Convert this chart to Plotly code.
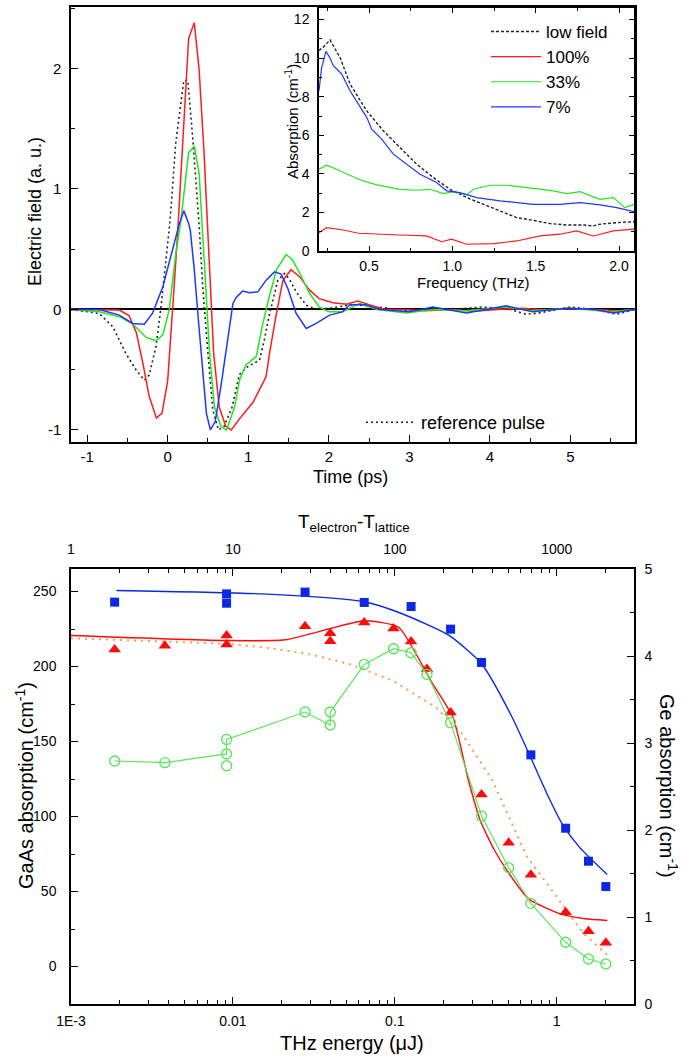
import plotly.graph_objects as go

# ---------------- Top panel: THz transients (time domain) ----------------
t_ref = [-1.2, -0.85, -0.68, -0.52, -0.39, -0.29, -0.23, -0.145, -0.083, -0.02, 0.03, 0.1, 0.2, 0.25, 0.31,
         0.39, 0.435, 0.5, 0.56, 0.63, 0.7, 0.8, 0.89, 0.99, 1.14, 1.2, 1.263, 1.367, 1.45, 1.512, 1.594,
         1.719, 1.843, 2.0, 2.3, 2.6, 3.0, 3.5, 3.9, 4.2, 4.45, 4.6, 5.0, 5.3, 5.57, 5.8]
E_ref = [0.0, -0.033, -0.144, -0.365, -0.504, -0.587, -0.545, -0.31, 0.022, 0.41, 0.74, 1.38, 1.90, 1.90, 1.43,
         0.70, 0.188, -0.365, -0.835, -1.0, -0.97, -0.81, -0.54, -0.476, -0.42, -0.25, -0.04, 0.243, 0.299, 0.25, 0.146,
         0.036, 0.0, 0.01, 0.04, 0.02, -0.01, 0.0, 0.02, 0.01, -0.04, -0.03, 0.02, 0.0, -0.04, 0.0]

t_100 = [-1.2, -0.85, -0.6, -0.48, -0.39, -0.31, -0.23, -0.14, -0.07, 0.0, 0.04, 0.08, 0.125, 0.26, 0.33,
         0.39, 0.45, 0.50, 0.53, 0.57, 0.64, 0.72, 0.79, 0.9, 1.06, 1.22, 1.27, 1.35, 1.43, 1.53, 1.64,
         1.76, 1.88, 2.05, 2.22, 2.36, 2.5, 2.7, 2.9, 3.2, 3.5, 3.8, 4.1, 4.4, 4.7, 5.0, 5.3, 5.6, 5.8]
E_100 = [0.0, 0.0, -0.005, -0.05, -0.19, -0.44, -0.72, -0.90, -0.86, -0.59, -0.23, 0.19, 0.65, 2.25, 2.38,
         1.99, 1.32, 0.66, 0.19, -0.36, -0.81, -0.97, -1.0, -0.9, -0.77, -0.56, -0.34, -0.03, 0.24, 0.33, 0.27,
         0.16, 0.09, 0.055, 0.044, 0.07, 0.04, 0.0, 0.0, -0.01, 0.0, -0.015, 0.0, 0.01, -0.005, 0.01, 0.0, -0.01, 0.0]

t_33 = [-1.2, -0.85, -0.6, -0.435, -0.27, -0.145, -0.06, 0.02, 0.1, 0.16, 0.26, 0.33, 0.39, 0.43, 0.47,
        0.52, 0.58, 0.66, 0.73, 0.83, 0.89, 0.97, 1.1, 1.18, 1.26, 1.35, 1.47, 1.55, 1.64, 1.76, 1.88,
        2.0, 2.17, 2.38, 2.6, 2.96, 3.3, 3.7, 4.2, 4.5, 5.0, 5.5, 5.8]
E_33 = [0.0, -0.02, -0.06, -0.12, -0.23, -0.26, -0.21, 0.0, 0.46, 0.72, 1.30, 1.355, 1.13, 0.70, 0.19,
        -0.36, -0.81, -0.97, -1.0, -0.81, -0.59, -0.46, -0.39, -0.12, 0.105, 0.33, 0.456, 0.41, 0.30, 0.133, 0.022,
        -0.02, -0.02, 0.05, 0.0, -0.03, 0.0, -0.01, 0.02, -0.01, 0.01, -0.02, 0.0]

t_7 = [-1.2, -0.85, -0.6, -0.435, -0.29, -0.19, -0.06, 0.04, 0.14, 0.2, 0.26, 0.28, 0.33, 0.37, 0.43,
       0.48, 0.53, 0.59, 0.66, 0.745, 0.81, 0.85, 0.93, 1.015, 1.118, 1.222, 1.325, 1.408, 1.491, 1.594, 1.72,
       1.843, 2.01, 2.17, 2.26, 2.46, 2.63, 3.0, 3.29, 3.71, 4.2, 4.53, 4.95, 5.3, 5.53, 5.8]
E_7 = [0.0, 0.0, -0.047, -0.116, -0.122, -0.033, 0.188, 0.437, 0.70, 0.82, 0.714, 0.66, 0.33, 0.0, -0.50,
       -0.86, -1.0, -0.93, -0.64, -0.227, 0.05, 0.10, 0.152, 0.138, 0.146, 0.243, 0.312, 0.293, 0.174, -0.033, -0.158,
       -0.116, -0.047, -0.02, 0.04, 0.04, 0.0, -0.02, 0.02, -0.03, 0.03, -0.02, 0.01, 0.0, -0.03, 0.0]

# ---------------- Inset: absorption spectra ----------------
f_low = [0.2, 0.23, 0.266, 0.286, 0.326, 0.386, 0.486, 0.586, 0.686, 0.786, 0.886, 0.986, 1.086, 1.186,
         1.286, 1.386, 1.486, 1.586, 1.686, 1.786, 1.846, 1.886, 1.986, 2.09]
A_low = [10.4, 10.6, 10.94, 10.65, 10.04, 8.66, 7.27, 6.23, 5.37, 4.50, 3.81, 3.20, 2.77, 2.42,
         2.08, 1.73, 1.59, 1.42, 1.35, 1.35, 1.30, 1.39, 1.47, 1.52]

f_100 = [0.2, 0.246, 0.346, 0.436, 0.686, 0.846, 0.936, 0.996, 1.086, 1.246, 1.386, 1.526, 1.646,
         1.746, 1.846, 1.966, 2.09]
A_100 = [0.95, 1.21, 1.09, 0.92, 0.83, 0.78, 0.48, 0.61, 0.35, 0.38, 0.52, 0.78, 0.87,
         1.04, 0.78, 1.04, 1.13]

f_33 = [0.2, 0.246, 0.326, 0.436, 0.546, 0.686, 0.786, 0.866, 0.946, 1.006, 1.086, 1.126, 1.226, 1.326,
        1.486, 1.606, 1.686, 1.766, 1.886, 1.966, 2.036, 2.09]
A_33 = [4.24, 4.45, 4.16, 3.72, 3.43, 3.20, 3.15, 3.20, 2.98, 3.08, 2.91, 3.20, 3.41, 3.41,
        3.25, 3.12, 2.98, 3.08, 2.68, 2.77, 2.25, 2.42]

f_7 = [0.2, 0.216, 0.242, 0.266, 0.286, 0.336, 0.386, 0.436, 0.486, 0.516, 0.576, 0.646, 0.726, 0.806,
       0.906, 0.966, 1.046, 1.146, 1.286, 1.486, 1.646, 1.766, 1.886, 1.986, 2.09]
A_7 = [8.31, 9.52, 10.35, 10.01, 9.61, 9.18, 8.31, 7.62, 6.93, 6.32, 5.80, 5.02, 4.50, 3.98,
       3.55, 3.12, 3.03, 2.77, 2.60, 2.42, 2.42, 2.51, 2.39, 2.25, 2.04]

# ---------------- Bottom panel: absorption vs THz energy ----------------
E_gaas_b = [0.00186, 0.00914, 0.00914, 0.0279, 0.0647, 0.126, 0.221, 0.343, 0.692, 1.135, 1.57, 2.01]
a_gaas_b = [242.9, 248.4, 242.2, 249.6, 242.7, 240.0, 224.9, 202.7, 141.1, 92.2, 70.2, 53.3]

E_fit_b = [0.00191, 0.015, 0.0647, 0.109, 0.216, 0.343, 0.53, 0.898, 1.08, 1.38, 2.05]
a_fit_b = [250.7, 248.4, 243.2, 235.5, 220.7, 201.8, 166.2, 112.0, 95.1, 79.6, 61.3]

E_gaas_r = [0.00186, 0.0038, 0.00914, 0.00914, 0.0279, 0.0399, 0.0399, 0.0647, 0.0982, 0.126, 0.158,
            0.221, 0.343, 0.505, 0.692, 1.135, 1.57, 2.01]
a_gaas_r = [211.3, 213.8, 220.7, 214.7, 226.9, 222.2, 216.9, 229.3, 225.3, 216.7, 198.4,
            169.3, 114.7, 82.5, 61.1, 36.2, 23.5, 15.8]

E_fit_r = [0.001, 0.00914, 0.021, 0.0647, 0.1057, 0.168, 0.229, 0.285, 0.337, 0.41, 0.493, 0.67, 1.05,
           1.5, 2.05]
a_fit_r = [220.7, 217.3, 217.8, 230.5, 226.2, 190.0, 166.0, 124.0, 97.3, 78.0, 64.0, 45.1, 35.1,
           31.8, 30.7]

E_ge = [0.00186, 0.0038, 0.00914, 0.00914, 0.0279, 0.0399, 0.0399, 0.0647, 0.0982, 0.126, 0.158,
        0.221, 0.343, 0.505, 0.692, 1.135, 1.57, 2.01]
a_ge = [2.793, 2.774, 2.874, 3.042, 3.356, 3.207, 3.356, 3.904, 4.084, 4.038, 3.789,
        3.234, 2.161, 1.567, 1.157, 0.709, 0.517, 0.460]
E_ge_extra = [0.00914]
a_ge_extra = [2.739]

E_model = [0.001, 0.00914, 0.015, 0.0279, 0.0518, 0.0965, 0.179, 0.26, 0.401, 0.657, 0.843, 1.47, 2.07]
a_model = [218.9, 215.1, 212.9, 208.9, 201.8, 190.7, 172.9, 155.1, 124.0, 72.9, 57.3, 21.8, 7.3]

# axis tick labels
time_ticks = [-1, 0, 1, 2, 3, 4, 5]
field_ticks = [-1, 0, 1, 2]
energy_ticks = [0.001, 0.01, 0.1, 1]
energy_labels = ["1E-3", "0.01", "0.1", "1"]
temp_ticks = [1, 10, 100, 1000]

# ---------------- styling ----------------
FONT = "Liberation Sans, Arial, sans-serif"
RED, GREEN, BLUE = "#ff1c1c", "#22e622", "#2036ff"
BRED, BGREEN, BBLUE, ORANGE = "#ff0a0a", "#5ce65c", "#0a28e6", "#ff9a45"

W, H = 683, 1057
def px(x0, x1):
    return [x0 / W, x1 / W]
def py(ytop, ybot):
    return [1 - ybot / H, 1 - ytop / H]

fig = go.Figure()

fig.add_trace(go.Scatter(x=t_ref, y=E_ref, mode="lines", name="reference pulse",
                         line=dict(color="#222222", width=1.6, dash="2px,3px"),
                         xaxis="x", yaxis="y", legend="legend2"))
fig.add_trace(go.Scatter(x=t_100, y=E_100, mode="lines", line=dict(color=RED, width=1.5),
                         xaxis="x", yaxis="y", showlegend=False))
fig.add_trace(go.Scatter(x=t_33, y=E_33, mode="lines", line=dict(color=GREEN, width=1.5),
                         xaxis="x", yaxis="y", showlegend=False))
fig.add_trace(go.Scatter(x=t_7, y=E_7, mode="lines", line=dict(color=BLUE, width=1.5),
                         xaxis="x", yaxis="y", showlegend=False))

fig.add_trace(go.Scatter(x=f_low, y=A_low, mode="lines", name="low field",
                         line=dict(color="#222222", width=1.4, dash="3px,2px"),
                         xaxis="x2", yaxis="y2", legend="legend"))
fig.add_trace(go.Scatter(x=f_100, y=A_100, mode="lines", name="100%",
                         line=dict(color=RED, width=1.2), xaxis="x2", yaxis="y2", legend="legend"))
fig.add_trace(go.Scatter(x=f_33, y=A_33, mode="lines", name="33%",
                         line=dict(color=GREEN, width=1.2), xaxis="x2", yaxis="y2", legend="legend"))
fig.add_trace(go.Scatter(x=f_7, y=A_7, mode="lines", name="7%",
                         line=dict(color=BLUE, width=1.2), xaxis="x2", yaxis="y2", legend="legend"))

fig.add_trace(go.Scatter(x=E_model, y=a_model, mode="lines", line=dict(color=ORANGE, width=2, dash="2px,5px"),
                         xaxis="x3", yaxis="y3", showlegend=False))
fig.add_trace(go.Scatter(x=E_fit_b, y=a_fit_b, mode="lines", line=dict(color=BBLUE, width=1.4, shape="spline",
                         smoothing=0.6), xaxis="x3", yaxis="y3", showlegend=False))
fig.add_trace(go.Scatter(x=E_fit_r, y=a_fit_r, mode="lines", line=dict(color=BRED, width=1.4, shape="spline",
                         smoothing=0.5), xaxis="x3", yaxis="y3", showlegend=False))
fig.add_trace(go.Scatter(x=E_gaas_b, y=a_gaas_b, mode="markers",
                         marker=dict(symbol="square", size=9, color=BBLUE),
                         xaxis="x3", yaxis="y3", showlegend=False))
fig.add_trace(go.Scatter(x=E_gaas_r, y=a_gaas_r, mode="markers",
                         marker=dict(symbol="triangle-up", size=11, color=BRED),
                         xaxis="x3", yaxis="y3", showlegend=False))
fig.add_trace(go.Scatter(x=E_ge, y=a_ge, mode="lines+markers",
                         line=dict(color=BGREEN, width=1.2),
                         marker=dict(symbol="circle-open", size=10, color=BGREEN, line=dict(width=1.4)),
                         xaxis="x3", yaxis="y4", showlegend=False))
fig.add_trace(go.Scatter(x=E_ge_extra, y=a_ge_extra, mode="markers",
                         marker=dict(symbol="circle-open", size=10, color=BGREEN, line=dict(width=1.4)),
                         xaxis="x3", yaxis="y4", showlegend=False))
fig.add_trace(go.Scatter(x=temp_ticks, y=[None] * len(temp_ticks), mode="lines",
                         xaxis="x4", yaxis="y3", showlegend=False, hoverinfo="skip"))

ax_common = dict(showline=True, linecolor="black", linewidth=1.5, showgrid=False, zeroline=False,
                 ticks="inside", tickcolor="black", tickwidth=1.3, automargin=False)

def minor_lin(t0, dt, ln=4):
    return dict(ticks="inside", tickmode="linear", tick0=t0, dtick=dt, ticklen=ln,
                tickcolor="black", tickwidth=1.2)

minor_log_e = [m * 10 ** k for k in range(-3, 1) for m in range(2, 10)]
minor_log_t = [m * 10 ** k for k in range(0, 4) for m in range(2, 10)]

def label(text, x, y, size, angle=0):
    return dict(text=text, x=x / W, y=1 - y / H, xref="paper", yref="paper", showarrow=False,
                xanchor="center", yanchor="middle", textangle=angle, font=dict(size=size))

fig.update_layout(
    width=W, height=H, autosize=False, margin=dict(l=0, r=0, t=0, b=0, pad=0, autoexpand=False),
    paper_bgcolor="white", plot_bgcolor="white",
    font=dict(family=FONT, size=14, color="black"),
    xaxis=dict(**ax_common, domain=px(71, 635), range=[-1.2, 5.8], anchor="y", mirror=True,
               tickmode="array", tickvals=time_ticks, ticktext=[str(v) for v in time_ticks],
               ticklen=7, ticklabelstandoff=0, tickfont=dict(size=15), minor=minor_lin(0.5, 1)),
    yaxis=dict(showline=True, linecolor="black", linewidth=1.5, showgrid=False,
               ticks="inside", tickcolor="black", tickwidth=1.3, automargin=False,
               zeroline=True, zerolinecolor="black", zerolinewidth=1.6,
               domain=py(7, 442), range=[-1.1, 2.51], anchor="x", mirror=True,
               tickmode="array", tickvals=field_ticks, ticktext=[str(v) for v in field_ticks],
               ticklen=7, ticklabelstandoff=5, tickfont=dict(size=15), minor=minor_lin(0.5, 1)),
    xaxis2=dict(**ax_common, domain=px(319, 634), range=[0.2, 2.09], anchor="y2", mirror="allticks",
                tick0=0.5, dtick=0.5, tickformat=".1f", ticklen=5, ticklabelstandoff=1,
                tickfont=dict(size=14), minor=minor_lin(0.25, 0.25, 3)),
    yaxis2=dict(**ax_common, domain=py(8, 251), range=[0, 12.6], anchor="x2", mirror="allticks",
                tick0=0, dtick=2, ticklen=5, ticklabelstandoff=5, tickfont=dict(size=14),
                minor=minor_lin(0, 1, 3)),
    xaxis3=dict(**ax_common, domain=px(71, 634), type="log", range=[-3, 0.4771], anchor="y3",
                tickmode="array", tickvals=energy_ticks, ticktext=energy_labels,
                ticklen=7, ticklabelstandoff=3, tickfont=dict(size=14),
                minor=dict(ticks="inside", tickvals=minor_log_e, ticklen=4, tickcolor="black", tickwidth=1.2)),
    xaxis4=dict(**ax_common, type="log", range=[0, 3.4771], overlaying="x3", side="top", anchor="y3",
                tickmode="array", tickvals=temp_ticks, ticktext=[str(v) for v in temp_ticks],
                ticklen=7, ticklabelstandoff=8, tickfont=dict(size=14),
                minor=dict(ticks="inside", tickvals=minor_log_t, ticklen=4, tickcolor="black", tickwidth=1.2)),
    yaxis3=dict(**ax_common, domain=py(569, 1004), range=[-25, 265], anchor="x3",
                tick0=0, dtick=50, ticklen=7, ticklabelstandoff=10, tickfont=dict(size=14),
                minor=minor_lin(25, 50)),
    yaxis4=dict(**ax_common, range=[0, 5], overlaying="y3", side="right", anchor="x3",
                tick0=0, dtick=1, ticklen=7, ticklabelstandoff=6, tickfont=dict(size=14),
                minor=minor_lin(0.5, 1)),
    legend=dict(x=486 / W, y=1 - 14 / H, xanchor="left", yanchor="top", bgcolor="rgba(0,0,0,0)",
                font=dict(size=17), tracegroupgap=0, itemwidth=50),
    legend2=dict(x=361 / W, y=1 - 404 / H, xanchor="left", yanchor="top", bgcolor="rgba(0,0,0,0)",
                 font=dict(size=18), itemwidth=50),
    annotations=[
        label("Electric field (a. u.)", 35, 212, 18, -90),
        label("Time (ps)", 350, 477, 18),
        label("Absorption (cm<sup>-1</sup>)", 291, 122, 15, -90),
        label("Frequency (THz)", 473, 283, 15),
        label("T<sub>electron</sub>-T<sub>lattice</sub>", 354, 523, 19),
        label("THz energy (\u03bcJ)", 352, 1043, 20),
        label("GaAs absorption (cm<sup>-1</sup>)", 24, 786, 20, -90),
        label("Ge absorption (cm<sup>-1</sup>)", 669, 786, 20, 90),
    ],
)

fig.write_html("out.html", config={"displayModeBar": False},
               post_script="document.body.style.margin='0px';document.body.style.overflow='hidden';")
